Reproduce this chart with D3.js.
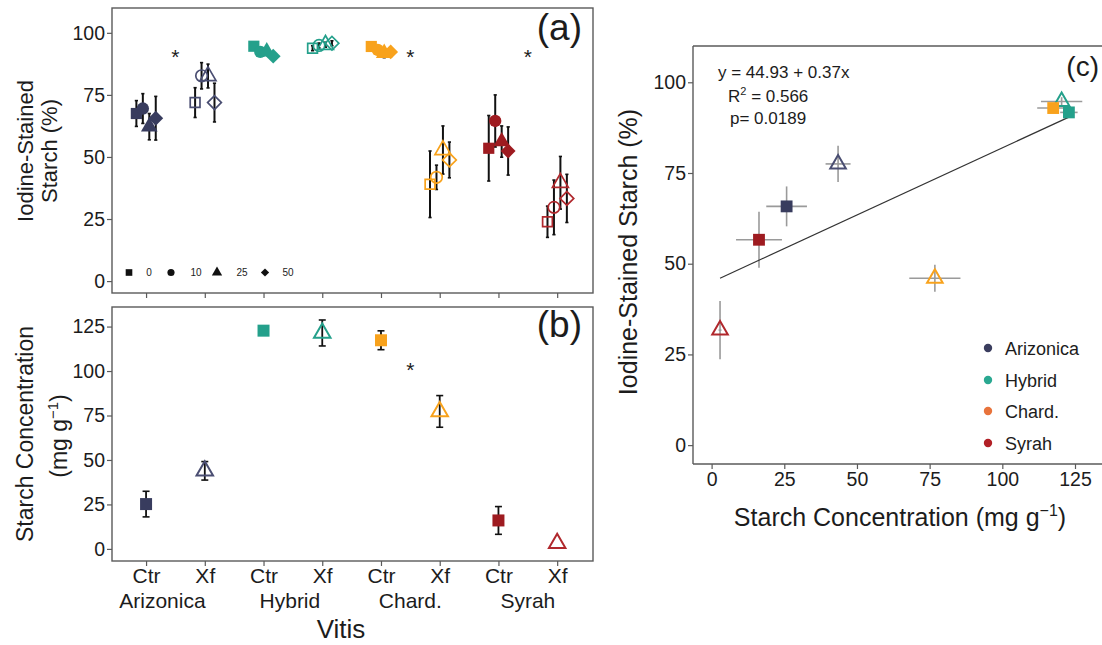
<!DOCTYPE html>
<html><head><meta charset="utf-8">
<script src="https://cdn.jsdelivr.net/npm/d3@7"></script>
<style>
body{margin:0;background:#fff}
svg{display:block}
text{font-family:"Liberation Sans",Arial,sans-serif;fill:#1c1c1c}
</style>
</head><body>
<svg id="chart" width="1102" height="645"></svg>
<script>
// ---------- data ----------
const varieties = ["Arizonica", "Hybrid", "Chard.", "Syrah"];
const treatments = ["Ctr", "Xf"];
const doses = ["0", "10", "25", "50"];
const varietyColors = ["#383c5e", "#24a08b", "#f8a21c", "#9e1b20"];
const openColors = ["#4a4e72", "#24a08b", "#f8a21c", "#b0282d"];
const legendColors = ["#3a3d5e", "#2aa891", "#e8733b", "#b22026"];

// Panel (a): iodine-stained starch (%) by dose (0,10,25,50), per variety
const iodineCtr   = [[67.5, 69.5, 62.2, 65.6], [94.6, 92.3, 92.4, 90.6], [94.5, 93.1, 91.8, 92.3], [53.5, 64.5, 56.2, 52.4]];
const iodineCtrSE = [[5.2, 6.0, 5.3, 8.8], [1.0, 1.0, 1.0, 1.0], [1.0, 1.0, 1.8, 1.0], [13.2, 10.5, 6.3, 9.7]];
const iodineXf    = [[71.9, 82.7, 82.6, 71.9], [93.8, 94.9, 95.2, 95.8], [39.0, 41.8, 52.8, 48.8], [23.9, 29.7, 39.6, 33.3]];
const iodineXfSE  = [[6.0, 5.3, 4.8, 7.8], [1.0, 1.0, 1.0, 1.0], [13.4, 4.9, 9.7, 7.2], [6.3, 11.0, 10.6, 9.7]];
const sigA = [{ variety: 0, value: 92 }, { variety: 2, value: 92 }, { variety: 3, value: 92 }];

// Panel (b): starch concentration (mg/g), order: Arizonica Ctr, Xf, Hybrid Ctr, Xf, Chard. Ctr, Xf, Syrah Ctr, Xf
const starchMean = [25.2, 43.9, 122.7, 121.4, 117.3, 77.3, 16.0, 3.2];
const starchSE   = [7.2, 5.2, 1.5, 7.3, 5.3, 8.9, 7.8, 0];
const sigB = [{ variety: 2, value: 103 }];

// Panel (c): correlation, same order as panel (b)
const corrX   = [25.8, 43.5, 122.9, 120.4, 117.5, 76.8, 16.3, 2.9];
const corrXSE = [7.0, 4.3, 3.0, 7.1, 5.5, 8.8, 7.9, 0.5];
const corrY   = [65.8, 77.5, 91.7, 94.7, 92.9, 46.0, 56.6, 31.7];
const corrYSE = [5.5, 5.0, 1.2, 1.2, 1.0, 3.7, 7.7, 8.0];
const fitIntercept = 44.93, fitSlope = 0.37;
const fitText = ["y = 44.93 + 0.37x", "0.566", "p= 0.0189"];

const yTicksA = [0, 25, 50, 75, 100];
const yTicksB = [0, 25, 50, 75, 100, 125];
const yTicksC = [0, 25, 50, 75, 100];
const xTicksC = [0, 25, 50, 75, 100, 125];

// ---------- helpers ----------
const svg = d3.select("#chart");
const AX = "#5a5a5a";
const symTypes = [d3.symbolSquare, d3.symbolCircle, d3.symbolTriangle, d3.symbolSquare];
function symPath(k, size) { return d3.symbol(symTypes[k], size)(); }
function symbolAt(g, k, x, y, size, color, open, sw) {
  const p = g.append("path").attr("d", symPath(k, size))
    .attr("transform", `translate(${x},${y})` + (k === 3 ? " rotate(45)" : ""));
  if (open) p.attr("fill", "none").attr("stroke", color).attr("stroke-width", sw || 1.6);
  else p.attr("fill", color);
  return p;
}
function styleAxis(g, fs) {
  g.select(".domain").remove();
  g.selectAll(".tick line").attr("stroke", AX).attr("stroke-width", 1.2);
  g.selectAll(".tick text").attr("font-size", fs).attr("fill", "#1c1c1c")
    .attr("font-family", "Liberation Sans, Arial, sans-serif");
}
const pos = (v, t) => 1 + 2 * v + t;
const dodge = [-0.165, -0.055, 0.055, 0.165];
const openSizes = [95, 105, 110, 95];
const fillSizes = [125, 120, 120, 110];

// ---------- panel (a) ----------
const xa = d3.scaleLinear().domain([0.42, 8.61]).range([112, 593]);
const ya = d3.scaleLinear().domain([-4.8, 110]).range([293, 8]);
const ga = svg.append("g");

ga.append("g").attr("transform", "translate(112,0)")
  .call(d3.axisLeft(ya).tickValues(yTicksA).tickSize(5).tickPadding(2))
  .call(g => styleAxis(g, 19.5));
ga.append("g").attr("transform", "translate(0,293)")
  .call(d3.axisBottom(xa).tickValues(d3.range(1, 9)).tickSize(5).tickFormat(""))
  .call(g => styleAxis(g, 19));

const ptsA = [];
varieties.forEach((v, vi) => treatments.forEach((t, ti) => doses.forEach((d, di) => {
  const m = ti ? iodineXf[vi][di] : iodineCtr[vi][di];
  const se = ti ? iodineXfSE[vi][di] : iodineCtrSE[vi][di];
  ptsA.push({ vi, ti, di, m, se, x: pos(vi, ti) + dodge[di] });
})));
ptsA.forEach(p => {
  const x = xa(p.x);
  ga.append("line").attr("x1", x).attr("x2", x).attr("y1", ya(p.m - p.se)).attr("y2", ya(p.m + p.se))
    .attr("stroke", "#111").attr("stroke-width", 2);
  [p.m - p.se, p.m + p.se].forEach(e => ga.append("line").attr("x1", x - 1.6).attr("x2", x + 1.6)
    .attr("y1", ya(e)).attr("y2", ya(e)).attr("stroke", "#111").attr("stroke-width", 1.6));
});
ptsA.forEach(p => {
  const open = p.ti === 1;
  symbolAt(ga, p.di, xa(p.x), ya(p.m), open ? openSizes[p.di] : fillSizes[p.di],
    open ? openColors[p.vi] : varietyColors[p.vi], open, 1.7);
});
sigA.forEach(s => ga.append("text").attr("x", xa(pos(s.variety, 0.5))).attr("y", ya(s.value) + 11.5)
  .attr("text-anchor", "middle").attr("font-size", 21).text("*"));

// dose legend
const legA = [{ x: 129 }, { x: 171 }, { x: 217 }, { x: 265 }];
const legLabelX = [149, 196, 242, 288];
const legSizes = [44, 40, 46, 34];
doses.forEach((d, i) => {
  symbolAt(ga, i, legA[i].x, 272.5, legSizes[i], "#111", false);
  ga.append("text").attr("x", legLabelX[i]).attr("y", 276.3).attr("text-anchor", "middle")
    .attr("font-size", 10).attr("fill", "#333").text(d);
});

ga.append("rect").attr("x", 112).attr("y", 8).attr("width", 481).attr("height", 285)
  .attr("fill", "none").attr("stroke", AX).attr("stroke-width", 1.4);
ga.append("text").attr("x", 582).attr("y", 40).attr("text-anchor", "end").attr("font-size", 37).text("(a)");
ga.append("text").attr("transform", "translate(33,151) rotate(-90)").attr("text-anchor", "middle")
  .attr("font-size", 22).text("Iodine-Stained");
ga.append("text").attr("transform", "translate(57,151) rotate(-90)").attr("text-anchor", "middle")
  .attr("font-size", 22).text("Starch (%)");

// ---------- panel (b) ----------
const yb = d3.scaleLinear().domain([-6.8, 136]).range([561, 307]);
const gb = svg.append("g");
gb.append("g").attr("transform", "translate(112,0)")
  .call(d3.axisLeft(yb).tickValues(yTicksB).tickSize(5).tickPadding(2))
  .call(g => styleAxis(g, 19.5));
gb.append("g").attr("transform", "translate(0,561)")
  .call(d3.axisBottom(xa).tickValues(d3.range(1, 9)).tickSize(5).tickPadding(2)
    .tickFormat(i => treatments[(i - 1) % 2]))
  .call(g => styleAxis(g, 21));
varieties.forEach((v, vi) => gb.append("text").attr("x", xa(pos(vi, 0.5)) - (vi === 0 ? 13 : vi === 1 ? 3 : 0))
  .attr("y", 607.5).attr("text-anchor", "middle").attr("font-size", 21).text(v));
gb.append("text").attr("x", 341).attr("y", 638).attr("text-anchor", "middle").attr("font-size", 26).text("Vitis");

starchMean.forEach((m, i) => {
  const vi = Math.floor(i / 2), ti = i % 2, x = xa(pos(vi, ti)), se = starchSE[i];
  if (se <= 0) return;
  gb.append("line").attr("x1", x).attr("x2", x).attr("y1", yb(m - se)).attr("y2", yb(m + se))
    .attr("stroke", "#111").attr("stroke-width", 1.8);
  [m - se, m + se].forEach(e => gb.append("line").attr("x1", x - 3.5).attr("x2", x + 3.5)
    .attr("y1", yb(e)).attr("y2", yb(e)).attr("stroke", "#111").attr("stroke-width", 1.6));
});
starchMean.forEach((m, i) => {
  const vi = Math.floor(i / 2), ti = i % 2, x = xa(pos(vi, ti));
  if (ti === 0) symbolAt(gb, 0, x, yb(m), 144, varietyColors[vi], false);
  else symbolAt(gb, 2, x, yb(m), 118, openColors[vi], true, 2);
});
sigB.forEach(s => gb.append("text").attr("x", xa(pos(s.variety, 0.5))).attr("y", yb(s.value) + 11.5)
  .attr("text-anchor", "middle").attr("font-size", 21).text("*"));
gb.append("rect").attr("x", 112).attr("y", 307).attr("width", 481).attr("height", 254)
  .attr("fill", "none").attr("stroke", AX).attr("stroke-width", 1.4);
gb.append("text").attr("x", 582).attr("y", 337).attr("text-anchor", "end").attr("font-size", 37).text("(b)");
gb.append("text").attr("transform", "translate(33,434) rotate(-90)").attr("text-anchor", "middle")
  .attr("font-size", 23).text("Starch Concentration");
const yl2 = gb.append("text").attr("transform", "translate(67,436) rotate(-90)").attr("text-anchor", "middle")
  .attr("font-size", 23);
yl2.append("tspan").text("(mg g");
yl2.append("tspan").attr("font-size", 15).attr("dy", -9).text("\u22121");
yl2.append("tspan").attr("dy", 9).text(")");

// ---------- panel (c) ----------
const xc = d3.scaleLinear().domain([-6.4, 133.6]).range([693, 1100]);
const yc = d3.scaleLinear().domain([-5.2, 110]).range([464, 46]);
const gc = svg.append("g");
gc.append("g").attr("transform", "translate(693,0)")
  .call(d3.axisLeft(yc).tickValues(yTicksC).tickSize(5).tickPadding(2))
  .call(g => styleAxis(g, 19.5));
gc.append("g").attr("transform", "translate(0,464)")
  .call(d3.axisBottom(xc).tickValues(xTicksC).tickSize(5).tickPadding(3))
  .call(g => styleAxis(g, 19.5));
[[693, 46, 693, 464], [693, 464, 1102, 464], [693, 46, 1102, 46]].forEach(l =>
  gc.append("line").attr("x1", l[0]).attr("y1", l[1]).attr("x2", l[2]).attr("y2", l[3])
    .attr("stroke", AX).attr("stroke-width", 1.4));

// error bars
corrX.forEach((x, i) => {
  gc.append("line").attr("x1", xc(x - corrXSE[i])).attr("x2", xc(x + corrXSE[i]))
    .attr("y1", yc(corrY[i])).attr("y2", yc(corrY[i])).attr("stroke", "#9a9a9a").attr("stroke-width", 1.6);
  gc.append("line").attr("x1", xc(x)).attr("x2", xc(x))
    .attr("y1", yc(corrY[i] - corrYSE[i])).attr("y2", yc(corrY[i] + corrYSE[i]))
    .attr("stroke", "#9a9a9a").attr("stroke-width", 1.6);
});
// regression line
const fx = d3.extent(corrX);
gc.append("line").attr("x1", xc(fx[0])).attr("y1", yc(fitIntercept + fitSlope * fx[0]))
  .attr("x2", xc(fx[1])).attr("y2", yc(fitIntercept + fitSlope * fx[1]))
  .attr("stroke", "#333").attr("stroke-width", 1.2);
// points
const orderC = [5, 7, 6, 0, 1, 3, 4, 2];
orderC.forEach(i => {
  const vi = Math.floor(i / 2), ti = i % 2;
  if (ti === 0) symbolAt(gc, 0, xc(corrX[i]), yc(corrY[i]), 140, varietyColors[vi], false);
  else symbolAt(gc, 2, xc(corrX[i]), yc(corrY[i]), 105, openColors[vi], true, 2);
});
// annotation
gc.append("text").attr("x", 718).attr("y", 78).attr("font-size", 17).text(fitText[0]);
const r2 = gc.append("text").attr("x", 728).attr("y", 102).attr("font-size", 17);
r2.append("tspan").text("R");
r2.append("tspan").attr("font-size", 11).attr("dy", -7).text("2");
r2.append("tspan").attr("dy", 7).text(" = " + fitText[1]);
gc.append("text").attr("x", 730).attr("y", 124).attr("font-size", 17).text(fitText[2]);
gc.append("text").attr("x", 1099).attr("y", 76).attr("text-anchor", "end").attr("font-size", 28).text("(c)");

// legend
const legY = [348, 380, 411, 443];
varieties.forEach((v, i) => {
  gc.append("circle").attr("cx", 988).attr("cy", legY[i]).attr("r", 4.2).attr("fill", legendColors[i]);
  gc.append("text").attr("x", 1005).attr("y", legY[i] + 6.5).attr("font-size", 18).text(v);
});
// axis titles
const xt = gc.append("text").attr("x", 900).attr("y", 526).attr("text-anchor", "middle").attr("font-size", 25);
xt.append("tspan").text("Starch Concentration (mg g");
xt.append("tspan").attr("font-size", 16).attr("dy", -10).text("\u22121");
xt.append("tspan").attr("dy", 10).text(")");
gc.append("text").attr("transform", "translate(637,252) rotate(-90)").attr("text-anchor", "middle")
  .attr("font-size", 25).text("Iodine-Stained Starch (%)");
</script>
</body></html>
